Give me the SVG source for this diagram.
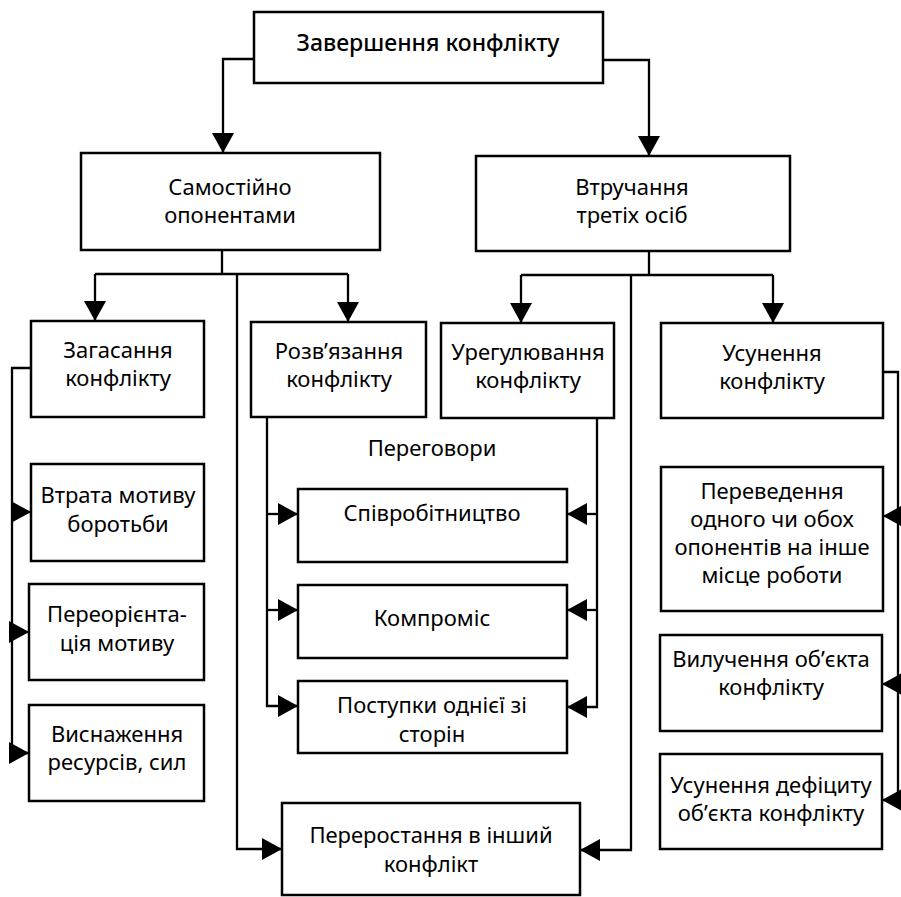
<svg xmlns="http://www.w3.org/2000/svg" width="901" height="897" viewBox="0 0 901 897">
  <style>
    .box { fill: #fff; stroke: #000; stroke-width: 2.5; }
    .t { font-family: "Noto Sans", "Liberation Sans", sans-serif; font-size: 22px; fill: #000; text-anchor: middle; }
    .title { font-size: 23px; font-weight: 500; }
    .ln { fill: none; stroke: #000; stroke-width: 2.3; }
  </style>
  <defs>
    <marker id="arr" markerUnits="userSpaceOnUse" markerWidth="21" markerHeight="22" refX="20" refY="11" orient="auto">
      <path d="M0,0 L20,11 L0,22 Z" fill="#000"/>
    </marker>
  </defs>
  <rect width="901" height="897" fill="#fff"/>

  <!-- connectors -->
  <g id="connectors" class="ln">
    <path d="M255,59 H223 V153" marker-end="url(#arr)"/>
    <path d="M603,60 H649 V156" marker-end="url(#arr)"/>

    <path d="M222,250 V274 M95,274 H348"/>
    <path d="M95,274 V321" marker-end="url(#arr)"/>
    <path d="M348,274 V322" marker-end="url(#arr)"/>
    <path d="M237,274 V849 H282" marker-end="url(#arr)"/>

    <path d="M649,251 V275 M521,275 H773"/>
    <path d="M521,275 V323" marker-end="url(#arr)"/>
    <path d="M773,275 V323" marker-end="url(#arr)"/>
    <path d="M631,275 V850 H580" marker-end="url(#arr)"/>

    <path d="M31,368 H12 V753 H29" marker-end="url(#arr)"/>
    <path d="M12,512 H31" marker-end="url(#arr)"/>
    <path d="M12,632 H29" marker-end="url(#arr)"/>

    <path d="M267,417 V706 H298" marker-end="url(#arr)"/>
    <path d="M267,514 H298" marker-end="url(#arr)"/>
    <path d="M267,610 H298" marker-end="url(#arr)"/>

    <path d="M597,418 V707 H567" marker-end="url(#arr)"/>
    <path d="M597,514 H567" marker-end="url(#arr)"/>
    <path d="M597,610 H567" marker-end="url(#arr)"/>

    <path d="M883,372 H898 V800 H882" marker-end="url(#arr)"/>
    <path d="M898,516 H883" marker-end="url(#arr)"/>
    <path d="M898,684 H882" marker-end="url(#arr)"/>
  </g>

  <!-- top node -->
  <g id="end">
    <rect class="box" x="254" y="12" width="349" height="71"/>
    <text class="t title" x="428" y="51" textLength="263" lengthAdjust="spacingAndGlyphs">Завершення конфлікту</text>
  </g>

  <!-- second level -->
  <g id="self">
    <rect class="box" x="81" y="153" width="299" height="97"/>
    <text class="t" x="230" y="195">Самостійно</text>
    <text class="t" x="230" y="223">опонентами</text>
  </g>
  <g id="third">
    <rect class="box" x="476" y="156" width="314" height="95"/>
    <text class="t" x="632" y="195">Втручання</text>
    <text class="t" x="632" y="223">третіх осіб</text>
  </g>

  <!-- third level -->
  <g id="fading">
    <rect class="box" x="31" y="321" width="173" height="96"/>
    <text class="t" x="118" y="358">Загасання</text>
    <text class="t" x="118" y="386">конфлікту</text>
  </g>
  <g id="resolution">
    <rect class="box" x="251" y="322" width="175" height="95"/>
    <text class="t" x="339" y="359">Розв’язання</text>
    <text class="t" x="339" y="387">конфлікту</text>
  </g>
  <g id="settlement">
    <rect class="box" x="441" y="323" width="173" height="95"/>
    <text class="t" x="528" y="360">Урегулювання</text>
    <text class="t" x="528" y="388">конфлікту</text>
  </g>
  <g id="elimination">
    <rect class="box" x="661" y="323" width="222" height="95"/>
    <text class="t" x="772" y="361">Усунення</text>
    <text class="t" x="772" y="389">конфлікту</text>
  </g>

  <!-- fading branch -->
  <g id="motive-loss">
    <rect class="box" x="31" y="464" width="173" height="97"/>
    <text class="t" x="118" y="503">Втрата мотиву</text>
    <text class="t" x="118" y="532">боротьби</text>
  </g>
  <g id="reorientation">
    <rect class="box" x="29" y="584" width="175" height="96"/>
    <text class="t" x="117" y="622">Переорієнта-</text>
    <text class="t" x="117" y="651">ція мотиву</text>
  </g>
  <g id="exhaustion">
    <rect class="box" x="29" y="705" width="175" height="96"/>
    <text class="t" x="117" y="742">Виснаження</text>
    <text class="t" x="117" y="770">ресурсів, сил</text>
  </g>

  <!-- negotiations -->
  <g id="negotiations">
    <text class="t" x="432" y="456">Переговори</text>
  </g>
  <g id="cooperation">
    <rect class="box" x="298" y="489" width="269" height="73"/>
    <text class="t" x="432" y="521">Співробітництво</text>
  </g>
  <g id="compromise">
    <rect class="box" x="298" y="585" width="269" height="73"/>
    <text class="t" x="432" y="626">Компроміс</text>
  </g>
  <g id="concession">
    <rect class="box" x="298" y="681" width="269" height="72"/>
    <text class="t" x="432" y="713">Поступки однієї зі</text>
    <text class="t" x="432" y="742">сторін</text>
  </g>

  <!-- escalation -->
  <g id="escalation">
    <rect class="box" x="282" y="803" width="298" height="92"/>
    <text class="t" x="431" y="843">Переростання в інший</text>
    <text class="t" x="431" y="872">конфлікт</text>
  </g>

  <!-- elimination branch -->
  <g id="transfer">
    <rect class="box" x="661" y="467" width="222" height="144"/>
    <text class="t" x="772" y="499">Переведення</text>
    <text class="t" x="772" y="527">одного чи обох</text>
    <text class="t" x="772" y="555">опонентів на інше</text>
    <text class="t" x="772" y="583">місце роботи</text>
  </g>
  <g id="withdrawal">
    <rect class="box" x="660" y="635" width="222" height="96"/>
    <text class="t" x="771" y="667">Вилучення об’єкта</text>
    <text class="t" x="771" y="695">конфлікту</text>
  </g>
  <g id="deficit">
    <rect class="box" x="660" y="754" width="222" height="95"/>
    <text class="t" x="771" y="793">Усунення дефіциту</text>
    <text class="t" x="771" y="821">об’єкта конфлікту</text>
  </g>
</svg>
